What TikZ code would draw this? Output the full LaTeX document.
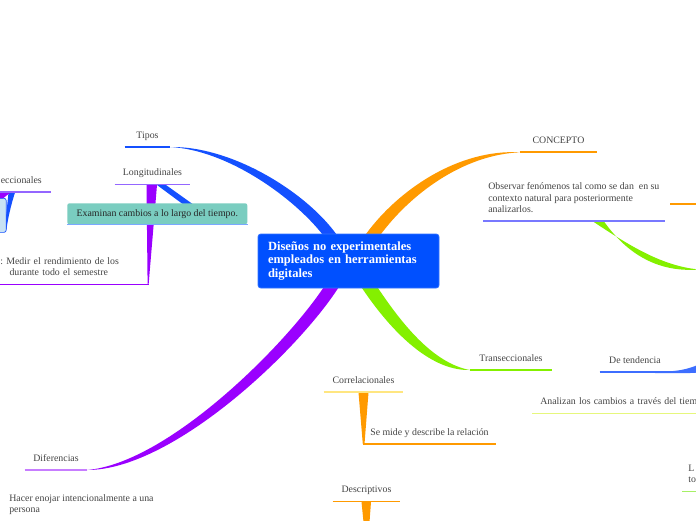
\documentclass[tikz,border=0pt]{standalone}
\usepackage{fontspec}
\setmainfont{Liberation Serif}
\usetikzlibrary{calc,backgrounds}
\definecolor{rootblue}{HTML}{0050FF}
\definecolor{brblue}{HTML}{1450FF}
\definecolor{tendblue}{HTML}{3D6EFF}
\definecolor{brorange}{HTML}{FF9A00}
\definecolor{brgreen}{HTML}{84F000}
\definecolor{brpurple}{HTML}{9A00FF}
\definecolor{lilac}{HTML}{C77DFF}
\definecolor{violet}{HTML}{9466FF}
\definecolor{paleyellow}{HTML}{FFE680}
\definecolor{limeyellow}{HTML}{E6F77C}
\definecolor{palegreen}{HTML}{A6F065}
\definecolor{periwinkle}{HTML}{7878FF}
\definecolor{skyline}{HTML}{7AA8FF}
\definecolor{tealbox}{HTML}{7ACDC0}
\definecolor{icebox}{HTML}{C8E2F4}
\definecolor{txtgray}{HTML}{444444}
\newcommand{\pxu}{0.025cm}
\frenchspacing

\begin{document}
\begin{tikzpicture}[x=0.025cm,y=-0.025cm,line join=round,
  every node/.style={inner sep=0pt,text=txtgray,font=\fontsize{7}{8}\selectfont},
  rootbox/.style={fill=rootblue,draw=rootblue!80!white,line width=0.6pt,rounded corners=2pt,
    minimum width={181*\pxu},minimum height={54*\pxu},text width={161*\pxu},align=left,
    text=white,font=\bfseries\fontsize{8.9}{9.9}\selectfont},
  topic/.style={anchor=south,inner ysep=4.5pt,text height=5pt,text depth=1.5pt},
  note/.style={anchor=south west,align=left,inner ysep=3.5pt},
  uline/.style={line width=1.3pt}]
  \useasboundingbox (0,0) rectangle (696,520);

  % central topic
  \node[rootbox] (root) at (348.5,261) {Diseños no experimentales\\empleados en herramientas\\digitales};

  % topics
  \node[topic,minimum width={45*\pxu}] (tipos) at (147.5,147) {Tipos};
  \node[topic,minimum width={75*\pxu}] (longi) at (152.5,184.5) {Longitudinales};
  \node[topic,anchor=south west,minimum width={58*\pxu}] (transL) at (-8,192) {eccionales};
  \node[topic,minimum width={77*\pxu}] (concepto) at (558.5,152.3) {CONCEPTO};
  \node[topic,minimum width={82*\pxu}] (transR) at (511,370) {Transeccionales};
  \node[topic,minimum width={70*\pxu}] (tend) at (635,372) {De tendencia};
  \node[topic,minimum width={79*\pxu}] (corr) at (363.5,392) {Correlacionales};
  \node[topic,minimum width={67*\pxu}] (desc) at (366.5,501.5) {Descriptivos};
  \node[topic,minimum width={62*\pxu}] (dif) at (56,470) {Diferencias};

  % notes
  \node[anchor=north west,fill=tealbox,rounded corners=1.5pt,minimum width={180*\pxu},
    minimum height={21*\pxu},text height=5pt,text depth=1.5pt,text=black!85] (exam) at (67,203)
    {Examinan cambios a lo largo del tiempo.};
  \node[anchor=north east,fill=icebox,draw=brblue,line width=0.5pt,rounded corners=1.5pt,
    minimum width={20*\pxu},minimum height={34*\pxu}] (ice) at (6.5,198) {};
  \node[note,inner xsep={3*\pxu},text width={145*\pxu}] (medir) at (-3,284.5)
    {: Medir el rendimiento de los\\\hspace*{6.6pt}durante todo el semestre\strut};
  \node[note,inner xsep={5*\pxu}] (obs) at (483,221)
    {Observar fenómenos tal como se dan\ \ en su\\contexto natural para posteriormente\\analizarlos.\strut};
  \node[note,inner xsep={7*\pxu}] (sedesc) at (363,444) {Se mide y describe la relación\strut};
  \node[note,inner xsep={8*\pxu},text width={170*\pxu}] (anal) at (532,413.5)
    {Analizan los cambios a través del tiemp\strut};
  \node[note,inner xsep={6*\pxu}] (lto) at (682,491.5) {L\\to\strut};
  \node[note,inner xsep={8*\pxu}] (hacer) at (1,521) {Hacer enojar intencionalmente a una\\persona\strut};

  \coordinate (offgreen) at (699,269.5);

  \begin{scope}[on background layer]
    \fill[white] (0,0) rectangle (696,520);
    % main branches
    \fill[brblue] ($(root.north west)+(65,1)$) .. controls (294,198) and (228,150) .. (tipos.south east)
      .. controls (232,146) and (306,192) .. ($(root.north west)+(79,1)$) -- cycle;
    \fill[brorange] ($(root.north west)+(108,1)$) .. controls (398,190) and (458,149) .. (concepto.south west)
      .. controls (462,155) and (410,195) .. ($(root.north west)+(123,1)$) -- cycle;
    \fill[brgreen] ($(root.south west)+(104,-1)$) .. controls (388,327) and (428,371) .. (transR.south west)
      .. controls (433,363) and (402,324) .. ($(root.south west)+(120,-1)$) -- cycle;
    \fill[brpurple] ($(root.south west)+(81,-1)$) .. controls (297,352) and (172,470) .. (dif.south east)
      .. controls (167,463) and (283,348) .. ($(root.south west)+(66,-1)$) -- cycle;
    % sub branches
    \fill[brblue] (157,185) -- (166,185) -- (194,205) -- (184,205) -- cycle;
    \fill[brpurple] (146.5,185) -- (157,185) -- (148.6,284.5) -- (147.6,284.5) -- cycle;
    \fill[brblue] (8.5,192.5) -- (15,192.5) .. controls (11,205) and (8,218) .. (6.5,229)
      -- (5,229) .. controls (6,215) and (7.5,203) .. cycle;
    \fill[brpurple] (-1,192.5) -- (11,192.5) .. controls (5,196) and (1,200) .. (-1,204) -- cycle;
    \fill[brorange] (358.5,392.5) -- (368.5,392.5) -- (364.5,444) -- (362.8,444) -- cycle;
    \fill[brorange] (361.5,502) -- (371,502) -- (369.5,522) -- (363.5,522) -- cycle;
    \fill[brgreen] (593,221.5) .. controls (630,246) and (662,266) .. (offgreen)
      .. controls (655,273) and (625,251) .. (604,221.5) -- cycle;
    \fill[tendblue] (655,371.5) .. controls (678,372) and (688,369) .. (699,364.5)
      -- (699,372.5) .. controls (688,373.5) and (675,373) .. (655,373) -- cycle;
    \draw[brorange,line width=2pt] (670,204) -- (699,204);
  \end{scope}

  % underlines
  \draw[uline,brblue] (tipos.south west) -- (tipos.south east);
  \draw[uline,violet] (longi.south west) -- (longi.south east);
  \draw[uline,violet] (transL.south west) -- (transL.south east);
  \draw[uline,brorange] (concepto.south west) -- (concepto.south east);
  \draw[uline,brgreen] (transR.south west) -- (transR.south east);
  \draw[uline,tendblue] (tend.south west) -- (tend.south east);
  \draw[uline,paleyellow] (corr.south west) -- (corr.south east);
  \draw[uline,brorange] (desc.south west) -- (desc.south east);
  \draw[uline,lilac] (dif.south west) -- (dif.south east);
  \draw[uline,skyline] (exam.south west) -- (exam.south east);
  \draw[uline,brpurple] (medir.south west) -- (medir.south east);
  \draw[uline,periwinkle] (obs.south west) -- (obs.south east);
  \draw[uline,brorange] (sedesc.south west) -- (sedesc.south east);
  \draw[uline,limeyellow] (anal.south west) -- (anal.south east);
  \draw[uline,palegreen] (lto.south west) -- (lto.south east);
\end{tikzpicture}
\end{document}
